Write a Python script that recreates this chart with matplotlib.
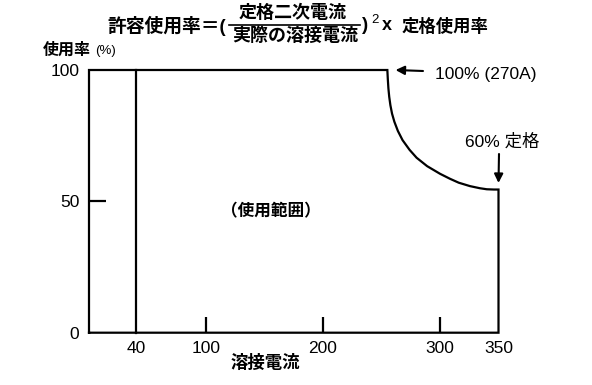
import matplotlib
matplotlib.use("Agg")
import matplotlib.pyplot as plt
from matplotlib.lines import Line2D

plt.rcParams['font.family'] = ['Liberation Sans', 'Noto Sans CJK JP', 'DejaVu Sans']

# 使用率の範囲 (読み取り値)
x_max = 350
y_max = 100
x_min_line = 40
# 100% から 60% 定格へ下がる曲線 (溶接電流 A, 使用率 %)
curve_x = [255, 255.4, 255.9, 256.6, 257.6, 259, 261, 264, 268, 274, 280, 289, 300,
           308.5, 316, 325.6, 334, 340, 346, 350]
curve_y = [100, 96.5, 93, 89.8, 86.6, 83.4, 80.3, 76.8, 73.3, 69.6, 66.6, 63.4, 60.5,
           58.6, 57.1, 55.8, 55.0, 54.6, 54.5, 54.5]

xticks = [40, 100, 200, 300, 350]
yticks = [0, 50, 100]

W, H = 592, 385
fig = plt.figure(figsize=(W / 100, H / 100), dpi=100)
ax = fig.add_axes([89 / W, 1 - 332.7 / H, (498.5 - 89) / W, (332.7 - 70) / H])


def fx(px):
    return px / W


def fy(py):
    return 1 - py / H


lw = 1.6
# 外枠
ox = [0, 0] + curve_x + [x_max, 0]
oy = [0, y_max] + curve_y + [0, 0]
ax.plot(ox, oy, color='black', lw=lw, clip_on=False, solid_joinstyle='miter')
ax.plot([x_min_line, x_min_line], [0, y_max], color='black', lw=lw, clip_on=False)

ax.set_xlim(0, x_max)
ax.set_ylim(0, y_max)
for s in ax.spines.values():
    s.set_visible(False)

ax.set_xticks(xticks)
ax.set_xticklabels([str(v) for v in xticks], fontsize=12.5)
ax.set_yticks(yticks)
ax.set_yticklabels([str(v) for v in yticks], fontsize=12.5)
ax.tick_params(axis='x', direction='in', length=11.5, width=lw, pad=6)
ax.tick_params(axis='y', direction='in', length=12, width=lw, pad=7)
for t in ax.xaxis.get_major_ticks():
    if t.get_loc() in (40, 350):
        t.tick1line.set_visible(False)
for t in ax.yaxis.get_major_ticks():
    if t.get_loc() != 50:
        t.tick1line.set_visible(False)
ax.set_facecolor('none')

# 注記
arrow = dict(arrowstyle='-|>', color='black', lw=1.5, mutation_scale=13,
             shrinkA=0, shrinkB=0)
ax.annotate('', xy=(curve_x[0] + 7, y_max), xytext=(fx(423), fy(71)),
            textcoords='figure fraction', arrowprops=arrow)
fig.text(fx(435), fy(75), '100% (270A)', fontsize=12.5, ha='left', va='center')
ax.annotate('', xy=(x_max, curve_y[-1] + 2.5), xytext=(fx(499), fy(154)),
            textcoords='figure fraction', arrowprops=arrow)
fig.text(fx(502), fy(142), '60% 定格', fontsize=12.5, ha='center', va='center')

fig.text(fx(271), fy(211), '（使用範囲）', fontsize=12, ha='center', va='center',
         fontweight='bold')
fig.text(fx(265), fy(362), '溶接電流', fontsize=12.5, ha='center', va='center',
         fontweight='bold')
fig.text(fx(43), fy(50), '使用率', fontsize=11.5, ha='left', va='center',
         fontweight='bold')
fig.text(fx(95), fy(51), '(%)', fontsize=9.5, ha='left', va='center')

# 式
fig.text(fx(107), fy(26), '許容使用率＝(', fontsize=13.5, ha='left', va='center',
         fontweight='bold')
fig.text(fx(293), fy(13), '定格二次電流', fontsize=13, ha='center', va='center',
         fontweight='bold')
fig.add_artist(Line2D([fx(229), fx(360)], [fy(24.5), fy(24.5)], color='black', lw=1.2))
fig.text(fx(295), fy(36), '実際の溶接電流', fontsize=13, ha='center', va='center',
         fontweight='bold')
fig.text(fx(362), fy(26), ')', fontsize=13.5, ha='left', va='center', fontweight='bold')
fig.text(fx(371), fy(20), '2', fontsize=9.5, ha='left', va='center')
fig.text(fx(382), fy(26), 'x', fontsize=13, ha='left', va='center', fontweight='bold')
fig.text(fx(402), fy(26), '定格使用率', fontsize=12.5, ha='left', va='center',
         fontweight='bold')

fig.savefig('out.png', dpi=100, facecolor='white')
